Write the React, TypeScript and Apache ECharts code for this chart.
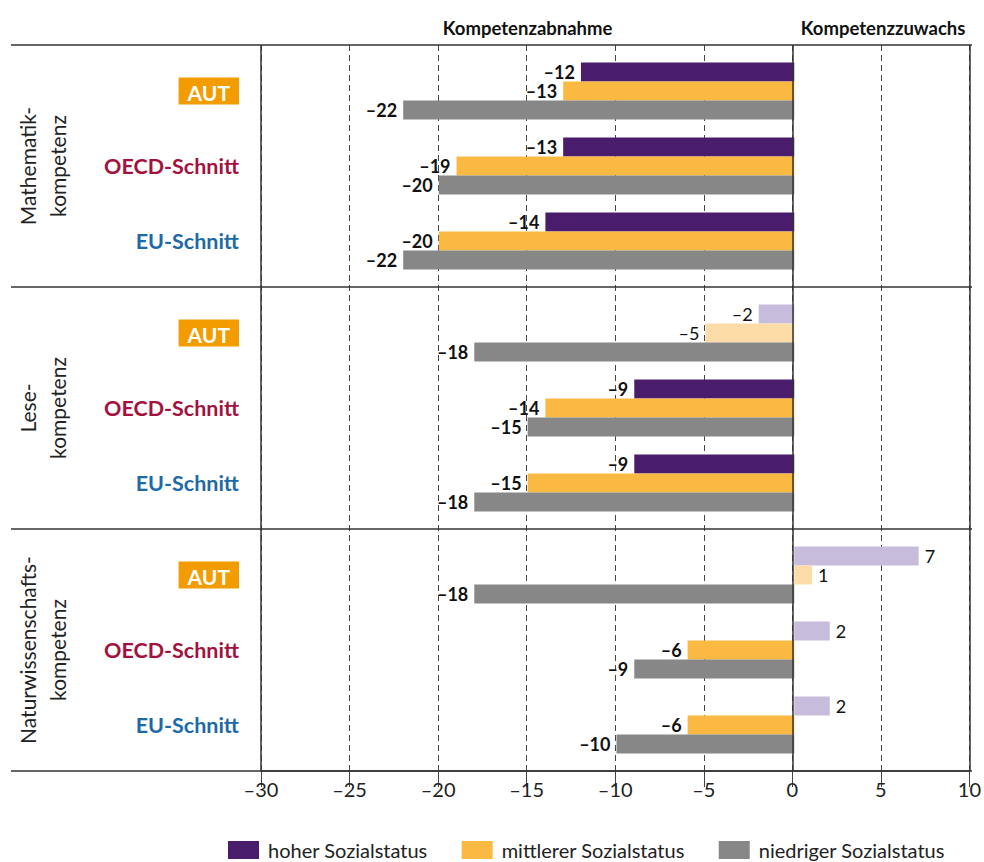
import { useEffect, useRef } from 'react';
import * as echarts from 'echarts';

// Groups shown in every section (top to bottom)
const groups = ['AUT', 'OECD-Schnitt', 'EU-Schnitt'];
// Competence areas, one panel each
const sections = ['Mathematik-\nkompetenz', 'Lese-\nkompetenz', 'Naturwissenschafts-\nkompetenz'];
// Social status series
const statusNames = ['hoher Sozialstatus', 'mittlerer Sozialstatus', 'niedriger Sozialstatus'];

// Change in competence points per group (AUT, OECD-Schnitt, EU-Schnitt)
const mathHoch = [-12, -13, -14];
const mathMittel = [-13, -19, -20];
const mathNiedrig = [-22, -20, -22];
const leseHoch = [-2, -9, -9];
const leseMittel = [-5, -14, -15];
const leseNiedrig = [-18, -15, -18];
const naturHoch = [7, 2, 2];
const naturMittel = [1, -6, -6];
const naturNiedrig = [-18, -9, -10];

// Non-significant changes: [section, status, group]
const notSignificant = [
  [1, 0, 0],
  [1, 1, 0],
  [2, 0, 0],
  [2, 1, 0],
  [2, 0, 1],
  [2, 0, 2],
];

const xMin = -30;
const xMax = 10;
const xStep = 5;

const sectionValues = [
  [mathHoch, mathMittel, mathNiedrig],
  [leseHoch, leseMittel, leseNiedrig],
  [naturHoch, naturMittel, naturNiedrig],
];

const colors = ['#4a1d6c', '#f9b942', '#878787'];
const fadedColors = ['#c7bcdb', '#fddca8', '#c4c4c4'];

const FONT = 'Lato, "Noto Sans", sans-serif';
const fmt = (v: number) => (v < 0 ? '\u2013' + Math.abs(v) : String(v));

// Layout
const W = 984;
const H = 862;
const plotLeft = 261;
const plotRight = 12;
const plotTop = 45;
const plotBottom = 771;
const sectionH = (plotBottom - plotTop) / 3;
const sectionInset = 8.5;

export default function App() {
  const ref = useRef<HTMLDivElement>(null);

  useEffect(() => {
    document.body.style.margin = '0';
    const chart = echarts.init(ref.current!, undefined, { renderer: 'svg' });

    const grids: any[] = [
      { left: plotLeft, right: plotRight, top: plotTop, height: plotBottom - plotTop },
    ];
    const xAxes: any[] = [
      {
        gridIndex: 0,
        type: 'value',
        min: xMin,
        max: xMax,
        interval: xStep,
        axisLine: { show: true, onZero: false, lineStyle: { color: '#333', width: 1.5 } },
        axisTick: { show: true, length: 16, lineStyle: { color: '#444', width: 1 } },
        axisLabel: {
          formatter: (v: number) => fmt(v),
          color: '#222',
          fontSize: 20,
          fontFamily: FONT,
          margin: 8,
        },
        splitLine: { show: true, lineStyle: { color: '#444', type: [6, 4], width: 1 } },
      },
    ];
    const yAxes: any[] = [{ gridIndex: 0, type: 'value', show: false }];
    const series: any[] = [
      {
        type: 'line',
        xAxisIndex: 0,
        yAxisIndex: 0,
        data: [],
        z: 10,
        silent: true,
        markLine: {
          silent: true,
          symbol: 'none',
          label: { show: false },
          lineStyle: { color: '#333', width: 1.5, type: 'solid' },
          data: [{ xAxis: xMin }, { xAxis: 0 }, { xAxis: xMax }],
        },
      },
    ];

    sectionValues.forEach((vals, s) => {
      const gi = s + 1;
      grids.push({
        left: plotLeft,
        right: plotRight,
        top: plotTop + s * sectionH + sectionInset,
        height: sectionH - 2 * sectionInset,
      });
      xAxes.push({ gridIndex: gi, type: 'value', min: xMin, max: xMax, show: false, splitLine: { show: false } });
      yAxes.push({
        gridIndex: gi,
        type: 'category',
        inverse: true,
        data: groups,
        axisLine: { show: false },
        axisTick: { show: false },
        axisLabel: {
          margin: 22,
          formatter: (v: string) =>
            v === 'AUT' ? `{aut|${v}}` : v === 'OECD-Schnitt' ? `{oecd|${v}}` : `{eu|${v}}`,
          rich: {
            aut: {
              backgroundColor: '#f39c00',
              color: '#fff',
              fontWeight: 'bold',
              fontSize: 21,
              fontFamily: FONT,
              lineHeight: 21,
              padding: [4, 9, 2, 9],
            },
            oecd: { color: '#a3123d', fontWeight: 'bold', fontSize: 21.5, fontFamily: FONT },
            eu: { color: '#1d6aa6', fontWeight: 'bold', fontSize: 21.5, fontFamily: FONT },
          },
        },
      });
      vals.forEach((arr, k) => {
        series.push({
          type: 'bar',
          name: statusNames[k],
          xAxisIndex: gi,
          yAxisIndex: gi,
          barWidth: 19,
          barGap: '0%',
          itemStyle: { color: colors[k] },
          z: 2,
          label: {
            show: true,
            formatter: (p: any) => fmt(p.value),
            fontSize: 18,
            fontWeight: 'bold',
            fontFamily: FONT,
            color: '#111',
            distance: 6,
          },
          data: arr.map((v, g) => {
            const ns = notSignificant.some((t) => t[0] === s && t[1] === k && t[2] === g);
            return {
              value: v,
              itemStyle: ns ? { color: fadedColors[k] } : undefined,
              label: {
                position: v < 0 ? 'left' : 'right',
                fontWeight: ns ? 'normal' : 'bold',
              },
            };
          }),
        });
      });
    });

    const graphic: any[] = [];
    // Section separators
    for (let i = 0; i <= 3; i++) {
      const y = plotTop + i * sectionH;
      graphic.push({
        type: 'line',
        silent: true,
        z: 20,
        shape: { x1: 11, y1: y, x2: W - plotRight, y2: y },
        style: { stroke: '#333', lineWidth: 1.5 },
      });
    }
    // Section titles (rotated)
    sections.forEach((t, s) => {
      graphic.push({
        type: 'text',
        x: 42,
        y: plotTop + (s + 0.5) * sectionH,
        rotation: Math.PI / 2,
        style: {
          text: t,
          align: 'center',
          verticalAlign: 'middle',
          fontSize: 21,
          lineHeight: 30,
          fontFamily: FONT,
          fill: '#222',
        },
      });
    });
    // Direction headers
    const unit = (W - plotRight - plotLeft) / (xMax - xMin);
    graphic.push({
      type: 'text',
      x: plotLeft + ((xMin + 0) / 2 - xMin) * unit,
      y: 28,
      style: {
        text: 'Kompetenzabnahme',
        align: 'center',
        verticalAlign: 'middle',
        fontSize: 18.5,
        fontWeight: 'bold',
        fontFamily: FONT,
        fill: '#111',
      },
    });
    graphic.push({
      type: 'text',
      x: plotLeft + ((0 + xMax) / 2 - xMin) * unit,
      y: 28,
      style: {
        text: 'Kompetenzzuwachs',
        align: 'center',
        verticalAlign: 'middle',
        fontSize: 18.5,
        fontWeight: 'bold',
        fontFamily: FONT,
        fill: '#111',
      },
    });

    chart.setOption({
      animation: false,
      grid: grids,
      xAxis: xAxes,
      yAxis: yAxes,
      series,
      graphic,
      legend: {
        left: 223,
        top: 835,
        itemWidth: 31,
        itemHeight: 18,
        itemGap: 34,
        icon: 'rect',
        data: statusNames,
        textStyle: { fontSize: 20, color: '#222', fontFamily: FONT, padding: [0, 0, 0, 4] },
        selectedMode: false,
      },
    });

    return () => chart.dispose();
  }, []);

  return <div ref={ref} style={{ width: W, height: H }} />;
}
